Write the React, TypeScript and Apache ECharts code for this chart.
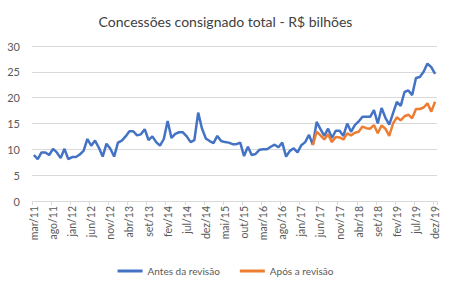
import React, { useEffect, useRef } from "react";
import * as echarts from "echarts";

const monthNames = ["jan", "fev", "mar", "abr", "mai", "jun", "jul", "ago", "set", "out", "nov", "dez"];
const startYear = 2011;
const startMonth = 2; // mar
const monthCount = 106;

const categories: string[] = [];
for (let k = 0; k < monthCount; k++) {
  const m = (startMonth + k) % 12;
  const y = startYear + Math.floor((startMonth + k) / 12);
  categories.push(`${monthNames[m]}/${String(y).slice(2)}`);
}

const antesDaRevisao = [
  8.9, 8.1, 9.4, 9.4, 8.9, 10.1, 9.4, 8.3, 10.1, 8.1,
  8.5, 8.5, 9.0, 9.7, 12.0, 10.7, 11.7, 10.3, 8.6, 11.1,
  10.1, 8.6, 11.3, 11.7, 12.5, 13.5, 13.5, 12.7, 12.9, 13.9,
  11.8, 12.5, 11.4, 10.7, 12.0, 15.5, 12.2, 13.0, 13.3, 13.3,
  12.5, 11.4, 11.8, 17.1, 14.0, 12.1, 11.6, 11.2, 12.6, 11.6,
  11.4, 11.3, 11.0, 11.0, 11.3, 8.7, 10.5, 8.9, 9.1, 9.9,
  10.0, 10.0, 10.5, 10.9, 10.4, 11.3, 8.6, 9.7, 10.2, 9.4,
  10.8, 11.4, 12.8, 10.9, 15.3, 13.9, 12.6, 14.0, 12.2, 13.6,
  13.6, 12.6, 15.0, 13.4, 14.7, 15.4, 16.3, 16.3, 16.3, 17.6,
  15.0, 18.0, 16.1, 14.8, 17.0, 19.2, 18.4, 21.1, 21.4, 20.5,
  23.8, 24.0, 25.0, 26.6, 25.9, 24.6,
];

// Após a revisão: starts at mai/17
const aposStartIndex = 73;
const aposValues = [
  10.8, 13.4, 12.7, 11.9, 12.9, 11.4, 12.4, 12.3, 11.9, 13.1,
  12.7, 13.2, 13.4, 14.4, 14.1, 14.0, 14.7, 13.1, 14.6, 14.0,
  12.6, 15.0, 16.2, 15.6, 16.4, 16.7, 16.0, 17.8, 17.8, 18.1,
  18.9, 17.3, 19.2,
];

const yTicks = { min: 0, max: 30, interval: 5 };

export default function App() {
  const ref = useRef<HTMLDivElement>(null);
  useEffect(() => {
    if (!ref.current) return;
    const chart = echarts.init(ref.current, undefined, { renderer: "svg" });
    const apos: (number | null)[] = categories.map((_, i) =>
      i >= aposStartIndex ? aposValues[i - aposStartIndex] ?? null : null
    );
    const font = "Lato, 'Liberation Sans', sans-serif";
    chart.setOption({
      animation: false,
      backgroundColor: "#ffffff",
      textStyle: { fontFamily: font },
      title: {
        text: "Concessões consignado total - R$ bilhões",
        left: "center",
        top: 9,
        textStyle: { fontSize: 14, fontWeight: "normal", color: "#404040", fontFamily: font },
      },
      grid: { left: 32, right: 14, top: 46, bottom: 84 },
      legend: {
        top: 261,
        left: "center",
        itemGap: 20,
        itemWidth: 25,
        itemHeight: 3,
        icon: "rect",
        textStyle: { fontSize: 10, color: "#595959", fontFamily: font },
        data: ["Antes da revisão", "Após a revisão"],
      },
      xAxis: {
        type: "category",
        data: categories,
        boundaryGap: true,
        axisLine: { lineStyle: { color: "#d9d9d9" } },
        axisTick: { show: true, interval: 4, length: 4, lineStyle: { color: "#d9d9d9" } },
        axisLabel: {
          interval: 4,
          rotate: 90,
          fontSize: 10.5,
          color: "#595959",
          margin: 5,
          fontFamily: font,
          showMaxLabel: true,
        },
      },
      yAxis: {
        type: "value",
        min: yTicks.min,
        max: yTicks.max,
        interval: yTicks.interval,
        axisLine: { show: false },
        axisTick: { show: false },
        axisLabel: { fontSize: 11, color: "#595959", margin: 12, fontFamily: font },
        splitLine: { lineStyle: { color: "#d9d9d9", width: 1 } },
      },
      series: [
        {
          name: "Antes da revisão",
          type: "line",
          data: antesDaRevisao,
          symbol: "none",
          lineStyle: { color: "#4472C4", width: 2.5 },
          itemStyle: { color: "#4472C4" },
        },
        {
          name: "Após a revisão",
          type: "line",
          data: apos,
          symbol: "none",
          lineStyle: { color: "#ED7D31", width: 2.5 },
          itemStyle: { color: "#ED7D31" },
        },
      ],
    });
    return () => chart.dispose();
  }, []);
  return (
    <div
      ref={ref}
      style={{ position: "fixed", left: 0, top: 0, width: 451, height: 285 }}
    />
  );
}
